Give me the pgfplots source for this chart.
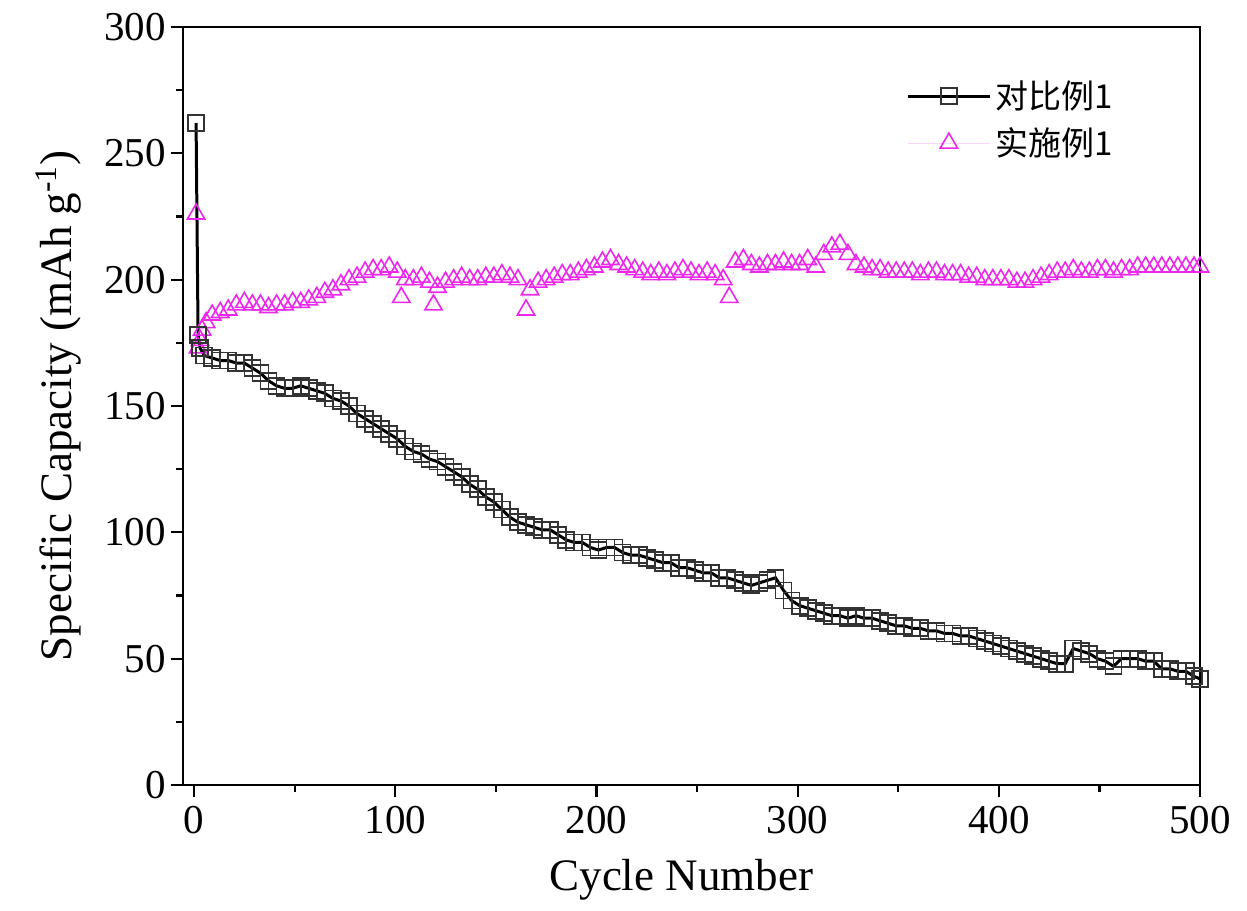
\documentclass[border=0pt]{standalone}
\usepackage{pgfplots}
\pgfplotsset{compat=1.18}
\usepackage{fontspec}
\setmainfont{Liberation Serif}
\newfontfamily\cjk{Noto Sans CJK SC}
\definecolor{mag}{RGB}{235,40,235}
\begin{document}
\begin{tikzpicture}
\path[use as bounding box] (-91.5pt,-62.5pt) rectangle (532pt,392.5pt);
\begin{axis}[
  at={(0,0)}, anchor=south west,
  scale only axis, width=508.5pt, height=379pt,
  xmin=-5.5, xmax=500, ymin=0, ymax=300,
  xtick={0,100,...,500}, ytick={0,50,...,300},
  minor xtick={50,150,...,450}, minor ytick={25,75,...,275},
  tick align=outside, tick pos=left,
  major tick length=6pt, minor tick length=3.5pt,
  every tick/.style={black, line width=1.1pt},
  axis line style={line width=1.2pt},
  /pgf/number format/assume math mode=true,
  ticklabel style={font=\fontsize{20.5}{20}\selectfont},
  xticklabel style={yshift=-1pt},
  yticklabel style={xshift=1pt},
  xlabel={Cycle Number},
  ylabel={Specific Capacity (mAh g\textsuperscript{-1})},
  label style={font=\fontsize{22.5}{24}\selectfont},
  x label style={at={(axis description cs:0.49,-0.125)}, anchor=center},
  y label style={at={(axis description cs:-0.122,0.5)}, anchor=center},
  legend style={draw=none, fill=none, at={(axis description cs:0.705,0.94)}, anchor=north west,
    font=\cjk\fontsize{16.5}{18}\selectfont, row sep=4pt,
    /tikz/every even column/.append style={column sep=4pt}},
  legend cell align=left,
  reverse legend,
  legend image code/.code={\draw[mark repeat=2,mark phase=2] plot coordinates {(0pt,0pt) (20.5pt,0pt) (41pt,0pt)};},
]
\addplot[color=mag!20, line width=0.3pt, mark=triangle, mark size=5pt,
  mark options={draw=mag, fill=white, line width=0.8pt, solid}] coordinates {
(1,226)(2,173)(3,176)(4,180)(6,183)(9,186)(13,187)(17,188)(21,190)(25,191)
(29,190)(33,190)(37,189)(41,190)(45,190)(49,191)(53,191)(57,192)(61,193)(65,195)
(69,196)(73,198)(77,200)(81,201)(85,203)(89,204)(93,204)(97,205)(101,203)(103,193)
(105,200)(109,200)(113,201)(117,199)(119,190)(121,197)(125,199)(129,200)(133,201)(137,200)
(141,200)(145,201)(149,201)(153,202)(157,201)(161,200)(165,188)(167,196)(171,199)(175,200)
(179,201)(183,202)(187,202)(191,203)(195,204)(199,205)(203,207)(207,208)(211,206)(215,205)
(219,204)(223,203)(227,202)(231,203)(235,202)(239,203)(243,204)(247,203)(251,202)(255,203)
(259,202)(263,200)(266,193)(269,207)(273,208)(277,206)(281,205)(285,206)(289,206)(293,207)
(297,206)(301,206)(305,208)(309,205)(313,210)(317,213)(321,214)(325,210)(329,206)(333,205)
(337,204)(341,204)(345,203)(349,203)(353,203)(357,203)(361,202)(365,203)(369,203)(373,202)
(377,202)(381,202)(385,201)(389,201)(393,200)(397,200)(401,200)(405,200)(409,199)(413,199)
(417,200)(421,201)(425,202)(429,203)(433,203)(437,204)(441,203)(445,203)(449,204)(453,204)
(457,203)(461,204)(465,204)(469,205)(473,205)(477,205)(481,205)(485,205)(489,205)(493,205)
(497,205)(500,205)
};
\addlegendentry{实施例1}
\addplot[color=black, line width=1.5pt, mark=square, mark size=4pt,
  mark options={draw=black!80, fill=white, line width=0.9pt, solid}] coordinates {
(1,262)(2,178)(3,173)(5,170)(9,169)(13,168)(17,168)(21,167)(25,167)(29,165)
(33,163)(37,160)(41,158)(45,157)(49,157)(53,158)(57,157)(61,156)(65,155)(69,153)
(73,152)(77,150)(81,147)(85,145)(89,143)(93,141)(97,139)(101,137)(105,134)(109,132)
(113,131)(117,129)(121,128)(125,126)(129,124)(133,122)(137,119)(141,117)(145,114)(149,112)
(153,109)(157,106)(161,104)(165,103)(169,102)(173,101)(177,101)(181,99)(185,97)(189,96)
(193,96)(197,94)(201,93)(205,94)(209,94)(213,92)(217,91)(221,91)(225,90)(229,89)
(233,88)(237,88)(241,86)(245,86)(249,85)(253,84)(257,84)(261,82)(265,82)(269,81)
(273,80)(277,79)(281,80)(285,81)(289,82)(293,77)(297,73)(301,71)(305,70)(309,69)
(313,68)(317,67)(321,67)(325,66)(329,67)(333,66)(337,66)(341,65)(345,64)(349,63)
(353,63)(357,62)(361,62)(365,61)(369,61)(373,60)(377,60)(381,59)(385,59)(389,58)
(393,57)(397,56)(401,55)(405,54)(409,53)(413,52)(417,51)(421,50)(425,49)(429,48)
(433,48)(437,54)(441,53)(445,52)(449,50)(453,49)(457,47)(461,50)(465,50)(469,50)
(473,49)(477,49)(481,46)(485,46)(489,45)(493,45)(497,43)(500,42)
};
\addlegendentry{对比例1}
\end{axis}
\end{tikzpicture}
\end{document}
